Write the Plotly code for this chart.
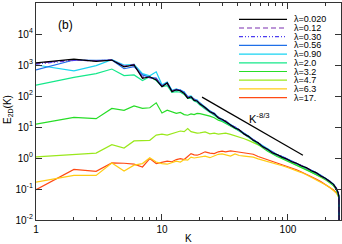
import numpy as np
import plotly.graph_objects as go

# Wavenumber grid (K)
K = [1, 2, 3, 4, 5, 6, 7, 8, 9, 10, 11, 12, 13, 14, 15, 16, 17, 18, 19, 20,
     22, 24, 26, 28, 30, 32, 35, 38, 41, 45, 49, 53, 58, 63, 69, 75, 82, 90, 98, 107,
     117, 128, 140, 153, 167, 182, 198, 215, 230, 242, 250, 254, 255]

# log10 of E_2D(K), one list per lambda
logE_0020 = [3.07, 3.19, 3.12, 3.16, 2.94, 3.00, 2.57, 2.62, 2.52, 2.30, 2.42, 2.14, 2.20, 2.17, 2.08, 1.93, 1.98, 1.86, 1.84, 1.74,
             1.63, 1.49, 1.43, 1.29, 1.25, 1.17, 1.07, 0.97, 0.91, 0.77, 0.69, 0.57, 0.49, 0.36, 0.28, 0.17, 0.11, 0.02, -0.03, -0.12,
             -0.17, -0.26, -0.31, -0.41, -0.47, -0.58, -0.65, -0.77, -0.85, -0.99, -1.12, -1.26, -3.0]
logE_012 = [3.05, 3.17, 3.13, 3.16, 2.96, 3.02, 2.60, 2.60, 2.55, 2.32, 2.40, 2.16, 2.22, 2.15, 2.10, 1.96, 1.97, 1.89, 1.85, 1.76,
            1.61, 1.51, 1.41, 1.31, 1.23, 1.19, 1.05, 0.99, 0.89, 0.79, 0.67, 0.59, 0.47, 0.38, 0.26, 0.19, 0.09, 0.04, -0.05, -0.10,
            -0.19, -0.24, -0.33, -0.39, -0.49, -0.56, -0.67, -0.75, -0.87, -0.97, -1.13, -1.25, -3.0]
logE_030 = [3.03, 3.15, 3.14, 3.16, 2.97, 2.98, 2.62, 2.58, 2.56, 2.31, 2.41, 2.15, 2.21, 2.18, 2.12, 1.94, 1.99, 1.87, 1.86, 1.75,
            1.62, 1.50, 1.44, 1.30, 1.24, 1.18, 1.06, 0.98, 0.92, 0.78, 0.70, 0.58, 0.50, 0.37, 0.29, 0.18, 0.10, 0.05, -0.04, -0.11,
            -0.18, -0.25, -0.32, -0.40, -0.48, -0.57, -0.66, -0.76, -0.86, -0.98, -1.12, -1.25, -3.0]
logE_056 = [2.84, 3.16, 3.15, 3.16, 2.88, 2.95, 2.68, 2.60, 2.58, 2.33, 2.43, 2.17, 2.19, 2.20, 2.11, 1.97, 1.96, 1.90, 1.83, 1.77,
            1.63, 1.52, 1.42, 1.32, 1.22, 1.20, 1.07, 1.00, 0.90, 0.80, 0.68, 0.60, 0.48, 0.39, 0.27, 0.20, 0.10, 0.05, -0.03, -0.10,
            -0.17, -0.24, -0.31, -0.39, -0.47, -0.56, -0.65, -0.75, -0.85, -0.97, -1.11, -1.24, -3.0]
logE_090 = [3.00, 2.81, 2.98, 3.17, 3.00, 3.02, 2.72, 2.65, 2.78, 2.36, 2.45, 2.18, 2.23, 2.19, 2.14, 1.98, 2.00, 1.90, 1.87, 1.78,
            1.64, 1.52, 1.44, 1.32, 1.25, 1.19, 1.08, 0.99, 0.91, 0.80, 0.70, 0.59, 0.49, 0.38, 0.28, 0.19, 0.11, 0.04, -0.03, -0.10,
            -0.17, -0.24, -0.31, -0.39, -0.47, -0.56, -0.65, -0.75, -0.85, -0.97, -1.11, -1.24, -3.0]
logE_20 = [2.35, 2.60, 2.72, 2.87, 2.66, 2.68, 2.50, 2.62, 2.50, 2.30, 2.33, 2.12, 2.14, 2.12, 2.05, 1.92, 1.93, 1.84, 1.80, 1.71,
           1.58, 1.47, 1.39, 1.27, 1.20, 1.14, 1.03, 0.95, 0.87, 0.76, 0.65, 0.56, 0.45, 0.35, 0.25, 0.16, 0.08, 0.01, -0.06, -0.13,
           -0.20, -0.27, -0.34, -0.42, -0.50, -0.58, -0.67, -0.77, -0.87, -0.99, -1.13, -1.26, -3.0]
logE_32 = [1.09, 1.31, 1.27, 1.60, 1.54, 1.68, 1.60, 1.62, 1.78, 1.45, 1.54, 1.50, 1.44, 1.47, 1.40, 1.38, 1.42, 1.40, 1.44, 1.43,
           1.40, 1.35, 1.30, 1.22, 1.18, 1.12, 1.04, 0.97, 0.88, 0.78, 0.66, 0.55, 0.44, 0.33, 0.22, 0.13, 0.05, -0.02, -0.09, -0.15,
           -0.22, -0.29, -0.36, -0.44, -0.52, -0.60, -0.69, -0.79, -0.89, -1.01, -1.15, -1.28, -3.0]
logE_47 = [0.035, 0.11, 0.16, 0.43, 0.32, 0.55, 0.55, 0.57, 0.74, 0.77, 0.74, 0.79, 0.82, 0.87, 0.85, 0.95, 0.85, 0.82, 0.80, 0.81,
           0.84, 0.78, 0.80, 0.77, 0.78, 0.80, 0.76, 0.72, 0.68, 0.62, 0.56, 0.50, 0.43, 0.36, 0.26, 0.17, 0.07, -0.01, -0.08, -0.16,
           -0.23, -0.30, -0.37, -0.45, -0.53, -0.61, -0.70, -0.80, -0.90, -1.02, -1.16, -1.29, -3.0]
logE_63 = [-0.78, -0.56, -0.56, -0.16, -0.42, -0.23, -0.18, 0.01, -0.13, -0.18, -0.20, -0.14, -0.10, -0.13, -0.05, -0.07, 0.03, 0.00, 0.02, 0.04,
           0.06, 0.01, 0.08, 0.12, 0.13, 0.10, 0.06, 0.13, 0.08, 0.06, 0.05, 0.03, -0.03, -0.07, -0.10, -0.15, -0.20, -0.25, -0.30, -0.35,
           -0.40, -0.47, -0.54, -0.62, -0.69, -0.77, -0.86, -0.95, -1.04, -1.13, -1.22, -1.32, -3.0]
logE_17 = [-1.02, -0.37, -0.43, -0.16, -0.17, -0.20, -0.29, -0.02, -0.18, -0.13, -0.10, -0.12, -0.05, -0.02, -0.05, 0.05, 0.14, 0.10, 0.09, 0.12,
           0.20, 0.16, 0.14, 0.20, 0.22, 0.20, 0.23, 0.21, 0.19, 0.16, 0.15, 0.12, 0.05, 0.00, -0.05, -0.10, -0.17, -0.22, -0.28, -0.33,
           -0.38, -0.45, -0.52, -0.60, -0.68, -0.76, -0.85, -0.94, -1.03, -1.12, -1.20, -1.30, -3.0]

labels = ["λ=0.020", "λ=0.12", "λ=0.30", "λ=0.56", "λ=0.90",
          "λ=2.0", "λ=3.2", "λ=4.7", "λ=6.3", "λ=17."]
series = [logE_0020, logE_012, logE_030, logE_056, logE_090,
          logE_20, logE_32, logE_47, logE_63, logE_17]
colors = ["#000000", "#7a2fb0", "#4b3cf0", "#1f6fe8", "#19d3f2",
          "#14e88a", "#27dd27", "#9ae81c", "#ffcc14", "#ff4a14"]
dashes = ["solid", "5px,3px", "4px,2px,1px,2px,1px,2px", "solid", "solid",
          "solid", "solid", "solid", "solid", "solid"]

# y tick values/labels
y_tickvals = [1e-2, 1e-1, 1, 1e1, 1e2, 1e3, 1e4, 1e5]
y_ticktext = ["10<sup>-2</sup>", "10<sup>-1</sup>", "10<sup>0</sup>", "10<sup>1</sup>",
              "10<sup>2</sup>", "10<sup>3</sup>", "10<sup>4</sup>", "10<sup>5</sup>"]
x_tickvals = [1, 10, 100]
x_ticktext = ["1", "10", "100"]
minor_x = [2, 3, 4, 5, 6, 7, 8, 9, 20, 30, 40, 50, 60, 70, 80, 90, 200]

# K^-8/3 reference segment
ref_K = [20.8, 131.5]
ref_E = [92.0, 1.23]

fig = go.Figure()
# draw in reverse so low-lambda curves sit on top
for lab, vals, col, dsh in reversed(list(zip(labels, series, colors, dashes))):
    fig.add_trace(go.Scatter(x=K, y=np.power(10.0, vals), mode="lines", name=lab,
                             line=dict(color=col, width=1.2, dash=dsh), showlegend=False))
fig.add_trace(go.Scatter(x=ref_K, y=ref_E, mode="lines", line=dict(color="black", width=1.2),
                         showlegend=False))

# plot area geometry (pixels)
W, H = 342, 244
L, R, T, B = 36, 1, 3, 24
pw, ph = W - L - R, H - T - B

def px(x):
    return (x - L) / pw

def py(y):
    return (H - B - y) / ph

shapes = []
annotations = []
# hand-drawn legend
row0, step = 19.3, 8.7
for i, (lab, col, dsh) in enumerate(zip(labels, colors, dashes)):
    yy = py(row0 + i * step)
    shapes.append(dict(type="line", xref="paper", yref="paper", x0=px(239), x1=px(287),
                       y0=yy, y1=yy, line=dict(color=col, width=1.2, dash=dsh)))
    annotations.append(dict(xref="paper", yref="paper", x=px(292), y=yy, text=lab,
                            showarrow=False, xanchor="left", yanchor="middle",
                            font=dict(size=9, color="black")))

annotations.append(dict(xref="paper", yref="paper", x=px(56), y=py(25), text="(b)",
                        showarrow=False, xanchor="left", yanchor="middle",
                        font=dict(size=12, color="black")))
annotations.append(dict(xref="paper", yref="paper", x=px(247), y=py(118), text="K<sup>-8/3</sup>",
                        showarrow=False, xanchor="left", yanchor="middle",
                        font=dict(size=11, color="black")))
annotations.append(dict(xref="paper", yref="paper", x=px(188), y=py(238), text="K",
                        showarrow=False, xanchor="center", yanchor="middle",
                        font=dict(size=10, color="black")))
annotations.append(dict(xref="paper", yref="paper", x=px(8), y=py(110), text="E<sub>2D</sub>(K)",
                        showarrow=False, xanchor="center", yanchor="middle", textangle=-90,
                        font=dict(size=10, color="black")))

fig.update_layout(
    width=W, height=H,
    margin=dict(l=L, r=R, t=T, b=B, pad=0, autoexpand=False),
    paper_bgcolor="white", plot_bgcolor="white",
    font=dict(family="Liberation Sans, Arial, sans-serif", size=10, color="black"),
    shapes=shapes, annotations=annotations,
    xaxis=dict(type="log", range=[0, 2.421], showgrid=False, zeroline=False, automargin=False,
               showline=True, linecolor="#333", linewidth=1.3, mirror="ticks",
               ticks="inside", ticklen=6, tickcolor="#333", tickwidth=1,
               tickvals=x_tickvals, ticktext=x_ticktext, tickfont=dict(size=10),
               minor=dict(tickvals=minor_x, ticks="inside", ticklen=3, tickcolor="#333", showgrid=False)),
    yaxis=dict(type="log", range=[-2, 5], showgrid=False, zeroline=False, automargin=False,
               showline=True, linecolor="#333", linewidth=1.3, mirror="ticks",
               ticks="inside", ticklen=6, tickcolor="#333", tickwidth=1,
               tickvals=y_tickvals, ticktext=y_ticktext, tickfont=dict(size=10)),
)

fig.write_html("out.html", config={"displayModeBar": False},
               post_script="document.body.style.margin='0';document.body.style.padding='0';")
